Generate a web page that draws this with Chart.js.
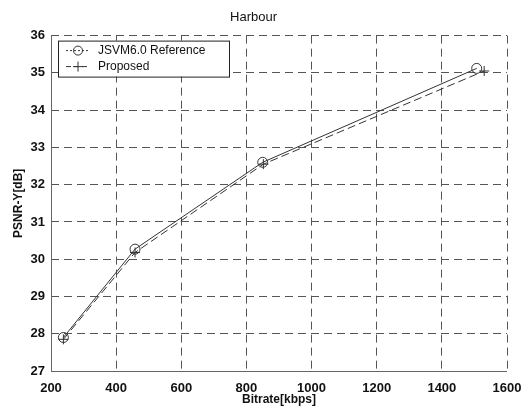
<!DOCTYPE html>
<html>
<head>
<meta charset="utf-8">
<script src="https://cdn.jsdelivr.net/npm/chart.js@4"></script>
<style>
  html, body { margin: 0; padding: 0; background: #fff; }
  #wrap { width: 523px; height: 407px; }
</style>
</head>
<body>
<div id="wrap"><canvas id="psnrChart" width="523" height="407"></canvas></div>
<script>
// values
const refBitrate = [238, 458, 850, 1507];
const refPsnr = [27.9, 30.27, 32.6, 35.12];
const propBitrate = [238, 458, 852, 1530];
const propPsnr = [27.85, 30.18, 32.55, 35.05];
const seriesNames = ['JSVM6.0 Reference', 'Proposed'];

const toPoints = (xs, ys) => xs.map((x, i) => ({ x: x, y: ys[i] }));

// legend box inside the plot (top-left) + solid left/bottom axis lines
const insideLegend = {
    id: 'insideLegend',
    afterDraw(chart) {
        const c = chart.ctx;
        const a = chart.chartArea;
        c.save();
        c.strokeStyle = '#666';
        c.lineWidth = 1;
        c.setLineDash([]);
        c.beginPath();
        c.moveTo(a.left + 0.5, a.top);
        c.lineTo(a.left + 0.5, a.bottom + 0.5);
        c.lineTo(a.right, a.bottom + 0.5);
        c.stroke();

        const x0 = a.left + 7, y0 = a.top + 5;
        const w = 171, h = 36;
        c.fillStyle = '#fff';
        c.fillRect(x0, y0, w, h);
        c.strokeStyle = '#222';
        c.strokeRect(x0 + 0.5, y0 + 0.5, w, h);
        chart.data.datasets.forEach((ds, i) => {
            const y = y0 + 10 + i * 16;
            c.strokeStyle = ds.borderColor;
            c.setLineDash(i === 0 ? [2, 2] : [5, 3]);
            c.beginPath();
            c.moveTo(x0 + 8, y);
            c.lineTo(x0 + 32, y);
            c.stroke();
            c.setLineDash([]);
            c.beginPath();
            if (i === 0) {
                c.arc(x0 + 20, y, 4.5, 0, Math.PI * 2);
            } else {
                c.moveTo(x0 + 15, y); c.lineTo(x0 + 25, y);
                c.moveTo(x0 + 20, y - 5); c.lineTo(x0 + 20, y + 5);
            }
            c.stroke();
            c.fillStyle = '#111';
            c.font = '12px "Liberation Sans", Arial, sans-serif';
            c.textBaseline = 'middle';
            c.fillText(ds.label, x0 + 40, y);
        });
        c.restore();
    }
};

const ctx = document.getElementById('psnrChart').getContext('2d');
const psnrChart = new Chart(ctx, {
    type: 'line',
    data: {
        datasets: [{
            label: seriesNames[0],
            data: toPoints(refBitrate, refPsnr),
            borderColor: '#333',
            borderWidth: 1,
            pointStyle: 'circle',
            pointRadius: 5,
            pointBackgroundColor: 'rgba(0,0,0,0)',
            pointBorderColor: '#333',
            fill: false,
            tension: 0
        }, {
            label: seriesNames[1],
            data: toPoints(propBitrate, propPsnr),
            borderColor: '#333',
            borderWidth: 1,
            borderDash: [8, 4],
            pointStyle: 'cross',
            pointRadius: 5,
            pointBorderColor: '#333',
            fill: false,
            tension: 0
        }]
    },
    options: {
        responsive: false,
        animation: false,
        layout: { padding: { right: 16, left: 0, top: 0, bottom: 0 } },
        plugins: {
            legend: { display: false },
            tooltip: { enabled: false },
            title: {
                display: true,
                text: 'Harbour',
                color: '#111',
                font: { family: '"Liberation Sans", Arial, sans-serif', size: 13, weight: 'normal' },
                padding: { top: 10, bottom: 10 }
            }
        },
        scales: {
            x: {
                type: 'linear',
                min: 200,
                max: 1600,
                afterFit: (s) => { s.height = 36; s.paddingRight = 0; s.paddingLeft = 0; },
                ticks: {
                    stepSize: 200,
                    color: '#111',
                    padding: 10,
                    callback: (v) => String(v),
                    font: { family: '"Liberation Sans", Arial, sans-serif', size: 13, weight: 'bold' }
                },
                grid: { color: '#555', drawTicks: false, lineWidth: 1 },
                border: { display: false, dash: [8, 5] },
                title: {
                    display: true,
                    text: 'Bitrate[kbps]',
                    color: '#111',
                    padding: 0,
                    font: { family: '"Liberation Sans", Arial, sans-serif', size: 12, weight: 'bold' }
                }
            },
            y: {
                min: 27,
                max: 36,
                afterFit: (s) => { s.width = 51; },
                ticks: {
                    stepSize: 1,
                    color: '#111',
                    padding: 6,
                    font: { family: '"Liberation Sans", Arial, sans-serif', size: 13, weight: 'bold' }
                },
                grid: { color: '#555', drawTicks: false, lineWidth: 1 },
                border: { display: false, dash: [8, 5] },
                title: {
                    display: true,
                    text: 'PSNR-Y[dB]',
                    color: '#111',
                    padding: { top: 11, bottom: 0 },
                    font: { family: '"Liberation Sans", Arial, sans-serif', size: 12, weight: 'bold' }
                }
            }
        }
    },
    plugins: [insideLegend]
});
</script>
</body>
</html>
